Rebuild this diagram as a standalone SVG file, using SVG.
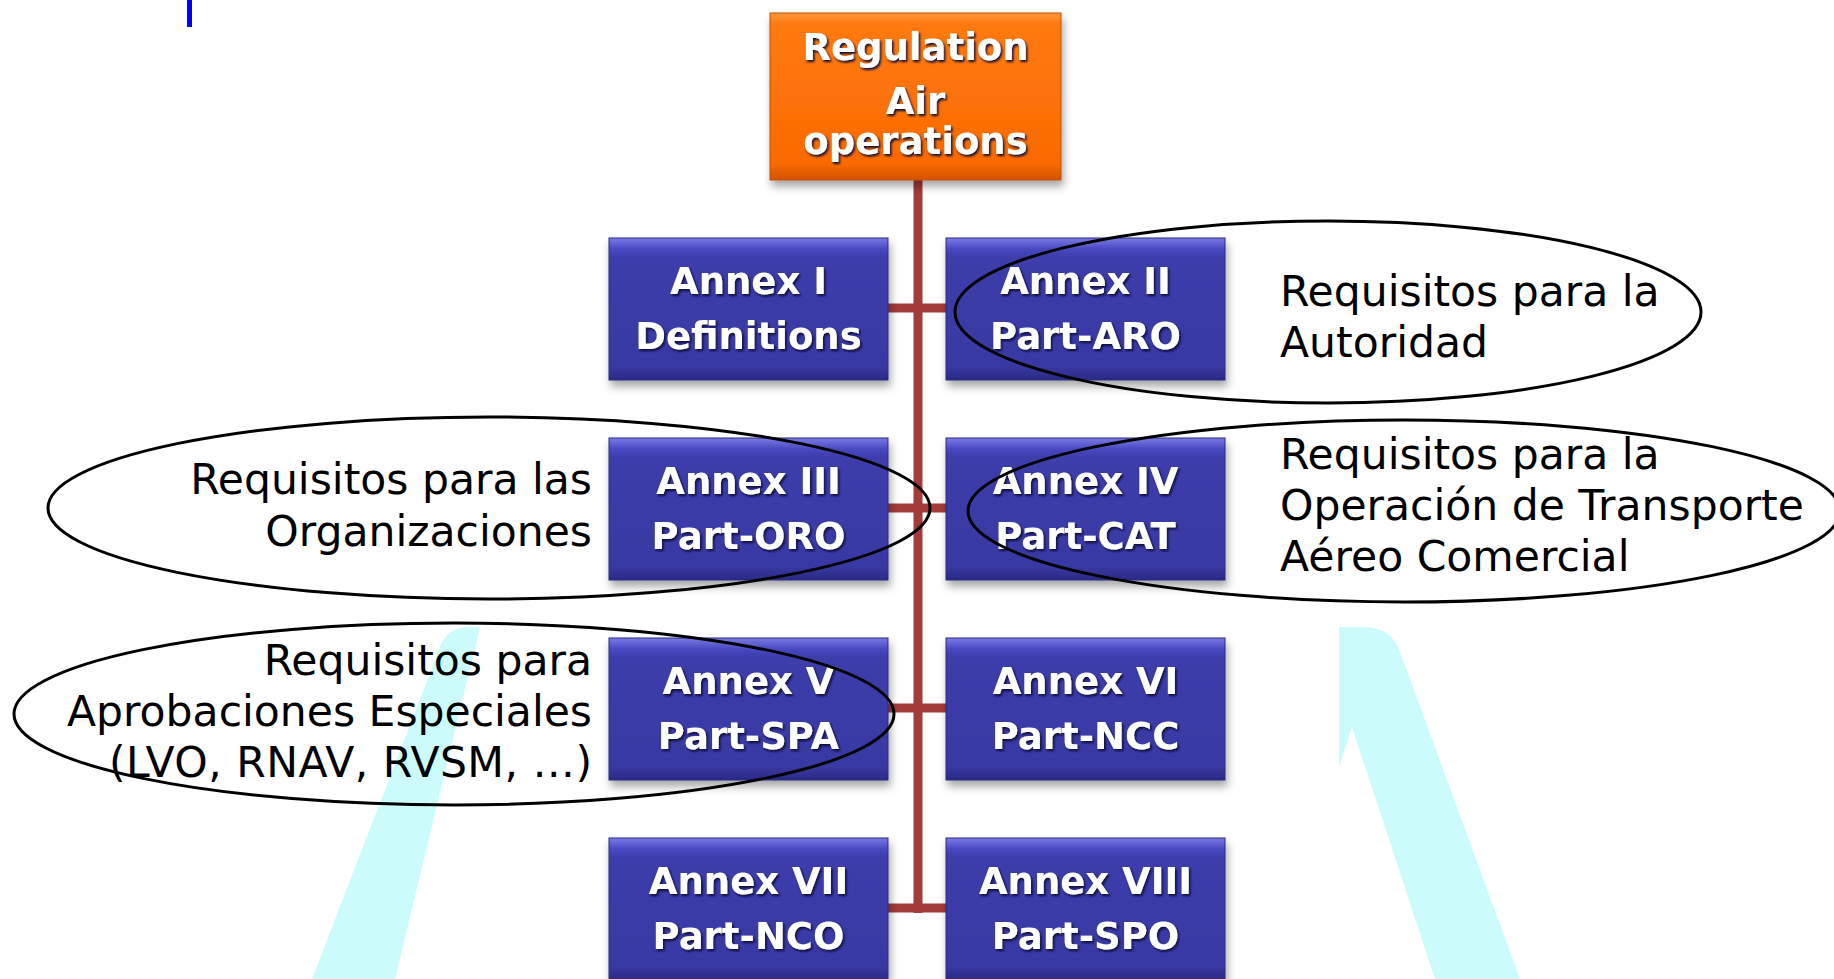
<svg xmlns="http://www.w3.org/2000/svg" width="1834" height="979" viewBox="0 0 1834 979">
<defs>
<style>
.box{fill:url(#blueG);stroke:#2c2c80;stroke-width:1;filter:url(#shadow)}
.btxt{font-family:"DejaVu Sans",sans-serif;font-weight:bold;font-size:37px;fill:#ffffff;text-anchor:middle;filter:url(#tshadow)}
.otxt{font-family:"DejaVu Sans",sans-serif;font-weight:bold;font-size:37px;fill:#ffffff;text-anchor:middle;filter:url(#tshadow)}
.note{font-family:"DejaVu Sans","Verdana",sans-serif;font-size:42.5px;fill:#000000}
.ell{fill:none;stroke:#000000;stroke-width:3}
.conn{stroke:#a33b3b;stroke-width:9;fill:none}
.wm{fill:#ccfbfc}
</style>
<linearGradient id="blueG" x1="0" y1="0" x2="0" y2="1">
<stop offset="0" stop-color="#7a7ae6"/>
<stop offset="0.08" stop-color="#4848c0"/>
<stop offset="0.14" stop-color="#3c3cab"/>
<stop offset="0.9" stop-color="#3939a4"/>
<stop offset="1" stop-color="#2a2a86"/>
</linearGradient>
<linearGradient id="orangeG" x1="0" y1="0" x2="0" y2="1">
<stop offset="0" stop-color="#ff9a40"/>
<stop offset="0.06" stop-color="#ff7a12"/>
<stop offset="0.9" stop-color="#fb6a00"/>
<stop offset="1" stop-color="#d25400"/>
</linearGradient>
<filter id="shadow" x="-10%" y="-10%" width="120%" height="130%">
<feDropShadow dx="2" dy="6" stdDeviation="4" flood-color="#000" flood-opacity="0.35"/>
</filter>
<filter id="tshadow" x="-10%" y="-20%" width="120%" height="150%">
<feDropShadow dx="1.5" dy="2" stdDeviation="1.3" flood-color="#0a0a3a" flood-opacity="1"/>
</filter>
</defs>
<rect x="0" y="0" width="1834" height="979" fill="#ffffff"/>
<g id="watermark">
<path class="wm" d="M1339,627 L1365,627 Q1392,628 1400,652 L1520,979 L1435,979 L1352,727 L1339,767 Z"/>
<path class="wm" d="M480,627 L395,979 L312,979 L437,655 Q444,629 465,627 Z"/>
</g>
<rect id="cursor" x="187" y="0" width="5" height="27" fill="#0000ff"/>
<g id="connectors">
<line class="conn" x1="918" y1="180" x2="918" y2="913"/>
<line class="conn" x1="888" y1="308" x2="946" y2="308"/>
<line class="conn" x1="888" y1="508" x2="946" y2="508"/>
<line class="conn" x1="888" y1="708" x2="946" y2="708"/>
<line class="conn" x1="888" y1="908" x2="946" y2="908"/>
</g>
<g id="root">
<rect x="770" y="13" width="291" height="167" fill="url(#orangeG)" stroke="#c04e00" stroke-width="1" filter="url(#shadow)"/>
<text class="otxt" x="915.5" y="60">Regulation</text>
<text class="otxt" x="915.5" y="114">Air</text>
<text class="otxt" x="915.5" y="154">operations</text>
</g>
<g id="annex1">
<rect class="box" x="609" y="238" width="279" height="142"/>
<text class="btxt" x="748.5" y="294">Annex I</text>
<text class="btxt" x="748.5" y="349">Definitions</text>
</g>
<g id="annex2">
<rect class="box" x="946" y="238" width="279" height="142"/>
<text class="btxt" x="1085.5" y="294">Annex II</text>
<text class="btxt" x="1085.5" y="349">Part-ARO</text>
</g>
<g id="annex3">
<rect class="box" x="609" y="438" width="279" height="142"/>
<text class="btxt" x="748.5" y="494">Annex III</text>
<text class="btxt" x="748.5" y="549">Part-ORO</text>
</g>
<g id="annex4">
<rect class="box" x="946" y="438" width="279" height="142"/>
<text class="btxt" x="1085.5" y="494">Annex IV</text>
<text class="btxt" x="1085.5" y="549">Part-CAT</text>
</g>
<g id="annex5">
<rect class="box" x="609" y="638" width="279" height="142"/>
<text class="btxt" x="748.5" y="694">Annex V</text>
<text class="btxt" x="748.5" y="749">Part-SPA</text>
</g>
<g id="annex6">
<rect class="box" x="946" y="638" width="279" height="142"/>
<text class="btxt" x="1085.5" y="694">Annex VI</text>
<text class="btxt" x="1085.5" y="749">Part-NCC</text>
</g>
<g id="annex7">
<rect class="box" x="609" y="838" width="279" height="142"/>
<text class="btxt" x="748.5" y="894">Annex VII</text>
<text class="btxt" x="748.5" y="949">Part-NCO</text>
</g>
<g id="annex8">
<rect class="box" x="946" y="838" width="279" height="142"/>
<text class="btxt" x="1085.5" y="894">Annex VIII</text>
<text class="btxt" x="1085.5" y="949">Part-SPO</text>
</g>
<g id="note-autoridad">
<ellipse class="ell" cx="1328" cy="312" rx="373" ry="91"/>
<text class="note" x="1280" y="306">Requisitos para la</text>
<text class="note" x="1280" y="357">Autoridad</text>
</g>
<g id="note-organizaciones">
<ellipse class="ell" cx="489" cy="508" rx="441" ry="91"/>
<text class="note" x="592" y="494" text-anchor="end">Requisitos para las</text>
<text class="note" x="592" y="546" text-anchor="end">Organizaciones</text>
</g>
<g id="note-cat">
<ellipse class="ell" cx="1404" cy="511" rx="436" ry="91"/>
<text class="note" x="1280" y="469">Requisitos para la</text>
<text class="note" x="1280" y="520">Operación de Transporte</text>
<text class="note" x="1280" y="571">Aéreo Comercial</text>
</g>
<g id="note-spa">
<ellipse class="ell" cx="454" cy="714" rx="440" ry="91"/>
<text class="note" x="592" y="675" text-anchor="end">Requisitos para</text>
<text class="note" x="592" y="726" text-anchor="end">Aprobaciones Especiales</text>
<text class="note" x="592" y="777" text-anchor="end" textLength="483" lengthAdjust="spacing">(LVO, RNAV, RVSM, …)</text>
</g>
</svg>
